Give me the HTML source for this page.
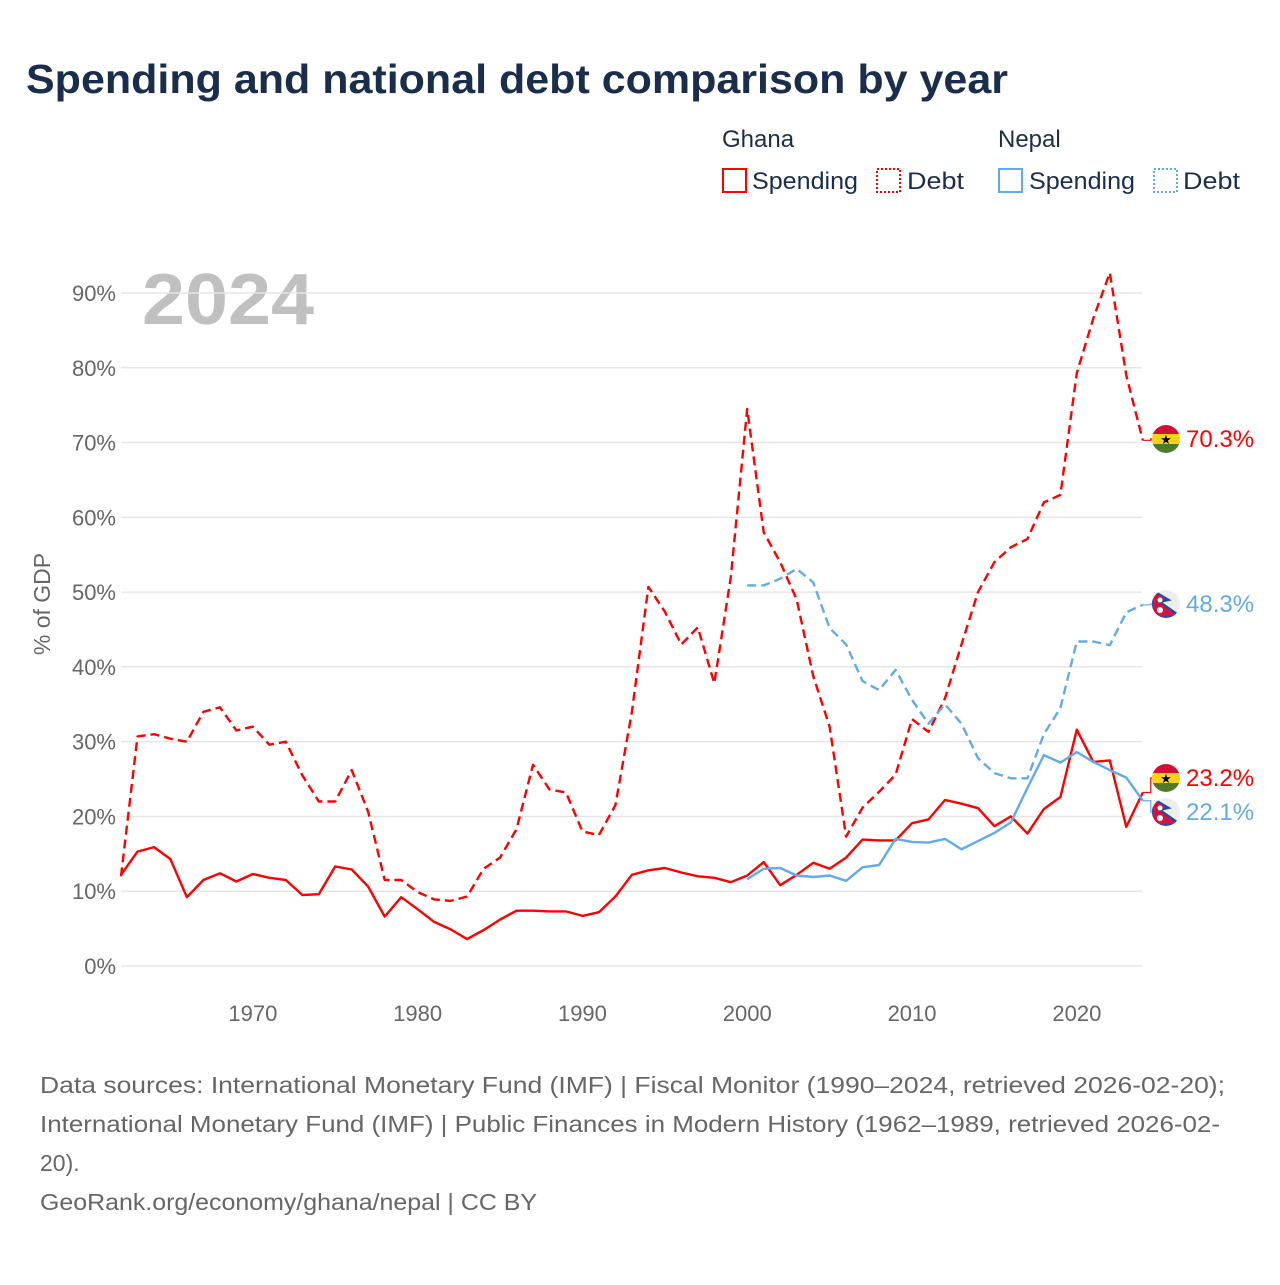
<!DOCTYPE html>
<html><head><meta charset="utf-8">
<style>
body{margin:0;background:#fff;width:1280px;height:1280px;overflow:hidden;font-family:"Liberation Sans",sans-serif;}
svg text{font-family:"Liberation Sans",sans-serif;}
</style></head>
<body>
<svg id="chart" width="1280" height="1280" xmlns="http://www.w3.org/2000/svg">
<text x="26" y="93" font-size="41" font-weight="bold" fill="#1a2e4c" textLength="982" lengthAdjust="spacingAndGlyphs">Spending and national debt comparison by year</text>
<g font-size="24" fill="#1a2e4c">
<text x="722" y="147" fill="#1a2e4c">Ghana</text>
<text x="998" y="147" fill="#1a2e4c">Nepal</text>
<g><rect x="723" y="169" width="23" height="23" fill="none" stroke="#ff0000" stroke-width="2"/><text x="752" y="189" textLength="106" lengthAdjust="spacingAndGlyphs">Spending</text></g>
<g><rect x="877" y="169" width="23" height="23" fill="none" stroke="#ff0000" stroke-width="2" stroke-dasharray="2,2"/><text x="907" y="189" textLength="57" lengthAdjust="spacingAndGlyphs">Debt</text></g>
<g><rect x="999" y="169" width="23" height="23" fill="none" stroke="#63aaeb" stroke-width="2"/><text x="1029" y="189" textLength="106" lengthAdjust="spacingAndGlyphs">Spending</text></g>
<g><rect x="1154" y="169" width="23" height="23" fill="none" stroke="#63aaeb" stroke-width="2" stroke-dasharray="2,2"/><text x="1183" y="189" textLength="57" lengthAdjust="spacingAndGlyphs">Debt</text></g>
</g>
<text x="142" y="324" font-size="72" font-weight="bold" fill="#c0c0c0" textLength="172" lengthAdjust="spacingAndGlyphs">2024</text>
<text transform="translate(50,604) rotate(-90)" text-anchor="middle" font-size="23" fill="#666">% of GDP</text>
<g id="grid"></g><g id="series"></g><g id="labels"></g>
<g font-size="23" fill="#666">
<text x="40" y="1093" textLength="1185" lengthAdjust="spacingAndGlyphs">Data sources: International Monetary Fund (IMF) | Fiscal Monitor (1990–2024, retrieved 2026-02-20);</text>
<text x="40" y="1132" textLength="1180" lengthAdjust="spacingAndGlyphs">International Monetary Fund (IMF) | Public Finances in Modern History (1962–1989, retrieved 2026-02-</text>
<text x="40" y="1171">20).</text>
<text x="40" y="1210" textLength="497" lengthAdjust="spacingAndGlyphs">GeoRank.org/economy/ghana/nepal | CC BY</text>
</g>
</svg>
<script>
const yTicks=[0,10,20,30,40,50,60,70,80,90];
const xTicks=[1970,1980,1990,2000,2010,2020];
const ghanaYears0=1962;
const ghanaSpending=[12.2,15.3,15.9,14.3,9.2,11.5,12.4,11.3,12.3,11.8,11.5,9.5,9.6,13.3,12.9,10.6,6.6,9.2,7.6,5.9,4.9,3.6,4.8,6.2,7.4,7.4,7.3,7.3,6.7,7.2,9.3,12.2,12.8,13.1,12.5,12.0,11.8,11.2,12.1,13.9,10.8,12.2,13.8,13.0,14.5,16.9,16.8,16.8,19.1,19.6,22.2,21.7,21.1,18.7,20.0,17.7,21.0,22.6,31.6,27.3,27.5,18.6,23.2];
const ghanaDebt=[12.0,30.7,31.0,30.4,30.0,34.0,34.6,31.5,32.0,29.6,30.0,25.5,22.0,22.0,26.2,20.6,11.5,11.5,9.9,8.9,8.7,9.3,13.0,14.5,18.3,26.9,23.6,23.2,18.0,17.5,21.5,34.0,50.7,47.4,43.0,45.3,37.8,52.0,74.5,58.0,54.0,49.0,38.8,32.0,17.3,21.2,23.3,25.6,33.0,31.3,35.8,43.0,50.0,54.0,56.0,57.1,62.0,63.0,79.3,86.6,92.7,79.0,70.3];
const nepalYears0=2000;
const nepalSpending=[11.6,13.0,13.1,12.1,11.9,12.1,11.4,13.2,13.5,17.0,16.6,16.5,17.0,15.6,16.7,17.8,19.2,23.8,28.2,27.2,28.6,27.3,26.2,25.2,22.1];
const nepalDebt=[50.9,50.9,51.8,53.1,51.3,45.2,43.0,38.1,36.9,39.6,35.6,32.4,35.0,32.4,27.8,25.8,25.1,25.1,31.0,34.5,43.4,43.4,42.9,47.3,48.3];

const NS='http://www.w3.org/2000/svg';
const X=yr=>121+(yr-1962)*(1077-253)/50;
const Y=v=>966-v*(966-293)/90;
function mk(tag,attrs,parent){const e=document.createElementNS(NS,tag);for(const k in attrs)e.setAttribute(k,attrs[k]);parent.appendChild(e);return e;}
const grid=document.getElementById('grid');
yTicks.forEach(t=>{
 const l=mk('line',{x1:121,x2:1142,y1:Y(t),y2:Y(t),stroke:'#e6e6e6','stroke-width':1.5},grid);
 
 
 const tx=mk('text',{x:116,y:Y(t)+8,'text-anchor':'end','font-size':22,fill:'#666'},grid);
 tx.textContent=t+'%';
 
 
});
xTicks.forEach(t=>{
 const tx=mk('text',{x:X(t),y:1021,'text-anchor':'middle','font-size':22,fill:'#666'},grid);
 tx.textContent=t;
 
 
});
const ser=document.getElementById('series');
function line(vals,y0,color,dash,name){
 const pts=vals.map((v,i)=>X(y0+i).toFixed(1)+','+Y(v).toFixed(1)).join(' ');
 const p=mk('polyline',{points:pts,fill:'none',stroke:color,'stroke-width':2.4,'stroke-linejoin':'round'},ser);
 if(dash)p.setAttribute('stroke-dasharray','9,5');
 
 
}
line(ghanaDebt,ghanaYears0,'#ff0000',true,'ghana-debt-line');
line(nepalDebt,nepalYears0,'#63aaeb',true,'nepal-debt-line');
line(ghanaSpending,ghanaYears0,'#ff0000',false,'ghana-spending-line');
line(nepalSpending,nepalYears0,'#63aaeb',false,'nepal-spending-line');

const lab=document.getElementById('labels');
function flag(cx,cy,type,g){
 const id='c'+Math.round(cy);
 const cp=mk('clipPath',{id:id},g);mk('circle',{cx:cx,cy:cy,r:14},cp);
 const f=mk('g',{'clip-path':'url(#'+id+')'},g);
 if(type==='gh'){
  mk('rect',{x:cx-14,y:cy-14,width:28,height:10,fill:'#d21034'},f);
  mk('rect',{x:cx-14,y:cy-5,width:28,height:10,fill:'#fcd116'},f);
  mk('rect',{x:cx-14,y:cy+5,width:28,height:10,fill:'#4e7a2c'},f);
  const s=mk('text',{x:cx,y:cy+5,'text-anchor':'middle','font-size':13,fill:'#000'},f);s.textContent='★';
 }else{
  mk('rect',{x:cx-14,y:cy-14,width:28,height:28,fill:'#eee'},f);
  mk('polygon',{points:`${cx-14},${cy-14} ${cx+3},${cy-4} ${cx-6},${cy-2} ${cx+14},${cy+12} ${cx-14},${cy+14}`,fill:'#d4143c',stroke:'#1e4fa8','stroke-width':2},f);
  mk('circle',{cx:cx-6,cy:cy-4,r:2.5,fill:'#fff'},f);
  mk('circle',{cx:cx-6,cy:cy+6,r:3,fill:'#fff'},f);
 }
}
function endLabel(val,labY,color,type,name){
 const g=mk('g',{},lab);
 
 
 mk('polyline',{points:`${X(2024)},${Y(val)} ${X(2024)+8},${Y(val)} ${X(2024)+8},${labY} 1152,${labY}`,fill:'none',stroke:color,'stroke-width':1.2},g);
 flag(1166,labY,type,g);
 const t=mk('text',{x:1186,y:labY+8,'font-size':24,fill:color},g);
 t.textContent=val.toFixed(1)+'%';
}
endLabel(ghanaDebt[ghanaDebt.length-1],439,'#ff0000','gh','ghana-debt-end-label');
endLabel(nepalDebt[nepalDebt.length-1],604,'#63aaeb','np','nepal-debt-end-label');
endLabel(ghanaSpending[ghanaSpending.length-1],778,'#ff0000','gh','ghana-spending-end-label');
endLabel(nepalSpending[nepalSpending.length-1],812,'#63aaeb','np','nepal-spending-end-label');
</script>
</body></html>
